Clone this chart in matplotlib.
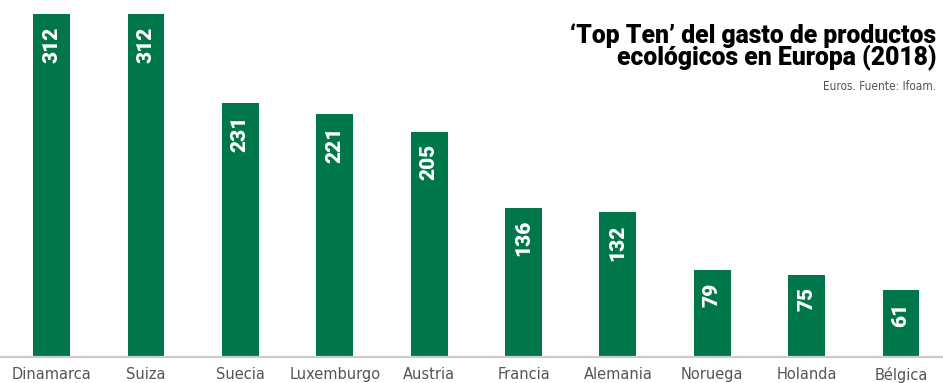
import matplotlib.pyplot as plt
import numpy as np

# gasto per capita en productos ecologicos, 2018 (euros)
paises = ['Dinamarca', 'Suiza', 'Suecia', 'Luxemburgo', 'Austria',
          'Francia', 'Alemania', 'Noruega', 'Holanda', 'Bélgica']
gasto = [312, 312, 231, 221, 205, 136, 132, 79, 75, 61]

verde = '#00774A'

fig = plt.figure(figsize=(9.43, 3.83), dpi=100)
ax = fig.add_axes([0, 0.068, 1, 0.932])

x = np.arange(len(paises))
ax.bar(x, gasto, width=0.39, color=verde)

# valor en vertical dentro de cada barra
for xi, v in zip(x, gasto):
    ax.annotate(str(v), (xi, v), xytext=(0, -9), textcoords='offset points',
                rotation=90, ha='center', va='top', color='white',
                fontsize=15, fontweight='heavy', family='Roboto')

ax.set_xlim(-0.546, 9.444)
ax.set_ylim(0, 325)
ax.set_xticks(x)
ax.set_xticklabels(paises, fontsize=10.5, color='#555555')
ax.tick_params(axis='x', length=0, pad=7)
ax.set_yticks([])
for s in ['top', 'left', 'right']:
    ax.spines[s].set_visible(False)
ax.spines['bottom'].set_color('#cccccc')
ax.spines['bottom'].set_linewidth(1.6)

fig.text(0.993, 0.94, '‘Top Ten’ del gasto de productos\necológicos en Europa (2018)',
         ha='right', va='top', fontsize=17.8, fontweight=900, family='Roboto',
         linespacing=0.86, color='black')
fig.text(0.993, 0.775, 'Euros. Fuente: Ifoam.', ha='right', va='center',
         fontsize=8.5, color='#555555', fontstretch='condensed')

fig.savefig('out.png', dpi=100)
